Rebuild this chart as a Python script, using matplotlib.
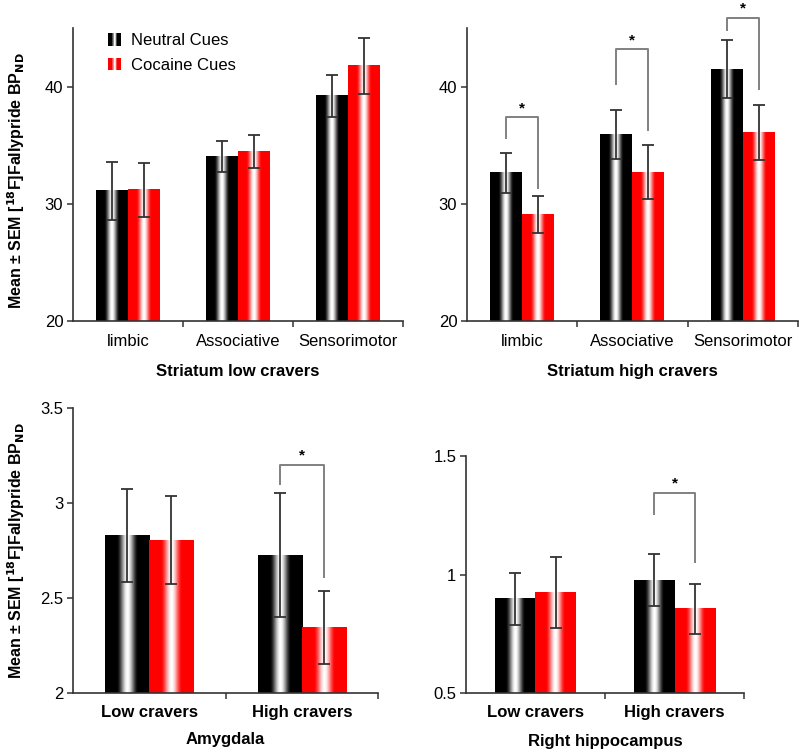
import matplotlib
matplotlib.use("Agg")
import matplotlib.pyplot as plt
import numpy as np
from matplotlib.legend_handler import HandlerBase
from matplotlib.patches import Rectangle, Patch
from matplotlib.ticker import FormatStrFormatter

plt.rcParams["font.family"] = ["Liberation Sans", "DejaVu Sans"]

# ---- data ----
striatum_regions = ["limbic", "Associative", "Sensorimotor"]
craver_groups = ["Low cravers", "High cravers"]

low_neutral = [31.1, 34.05, 39.2]
low_neutral_err = [2.45, 1.35, 1.8]
low_cocaine = [31.2, 34.5, 41.8]
low_cocaine_err = [2.3, 1.4, 2.4]

high_neutral = [32.65, 35.9, 41.5]
high_neutral_err = [1.7, 2.1, 2.45]
high_cocaine = [29.1, 32.7, 36.1]
high_cocaine_err = [1.6, 2.3, 2.35]

amyg_neutral = [2.83, 2.725]
amyg_neutral_err = [0.245, 0.325]
amyg_cocaine = [2.805, 2.345]
amyg_cocaine_err = [0.23, 0.19]

hippo_neutral = [0.897, 0.977]
hippo_neutral_err = [0.11, 0.11]
hippo_cocaine = [0.926, 0.855]
hippo_cocaine_err = [0.15, 0.105]

# significance brackets: (group index, bracket top, left leg end, right leg end)
high_brackets = [(0, 37.4, 35.6, 31.4), (1, 43.2, 40.2, 36.3), (2, 45.9, 44.8, 39.8)]
amyg_brackets = [(1, 3.2, 3.10, 2.61)]
hippo_brackets = [(1, 1.344, 1.255, 1.053)]

ylabel_text = r"Mean ± SEM [$^{\mathbf{18}}$F]Fallypride BP$_{\mathbf{ND}}$"

BLACK = np.array([0.0, 0.0, 0.0])
RED = np.array([1.0, 0.0, 0.0])
BAR_W = 0.29
AX_COLOR = "#333333"


def gradient_colors(base, n=200):
    t = np.linspace(0, 1, n)
    w = np.clip(1 - np.abs(t - 0.5) / 0.24, 0, 1)
    w = w * w * (3 - 2 * w)
    return base[None, :] * (1 - w[:, None]) + w[:, None]


def gradient_bar(ax, x0, x1, y0, y1, base):
    img = gradient_colors(base)[None, :, :]
    ax.imshow(img, extent=(x0, x1, y0, y1), aspect="auto", zorder=2,
              interpolation="bilinear")


class GradientHandler(HandlerBase):
    def __init__(self, base):
        super().__init__()
        self.base = base

    def create_artists(self, legend, orig_handle, xdescent, ydescent,
                       width, height, fontsize, trans):
        n = 24
        cols = gradient_colors(self.base, n)
        arts = []
        for i in range(n):
            r = Rectangle((-xdescent + i * width / n, -ydescent), width / n * 1.05, height,
                          facecolor=cols[i], edgecolor="none", transform=trans)
            arts.append(r)
        return arts


def panel(ax, labels, neutral, n_err, cocaine, c_err, ylim, yticks, fmt,
          brackets, xlabel, label_cats_bold):
    n = len(labels)
    xs = np.arange(n)
    for i in range(n):
        gradient_bar(ax, xs[i] - BAR_W, xs[i], ylim[0], neutral[i], BLACK)
        gradient_bar(ax, xs[i], xs[i] + BAR_W, ylim[0], cocaine[i], RED)
    ax.errorbar(xs - BAR_W / 2, neutral, yerr=n_err, fmt="none", ecolor=AX_COLOR,
                elinewidth=1.3, capsize=4.5, capthick=1.3, zorder=3)
    ax.errorbar(xs + BAR_W / 2, cocaine, yerr=c_err, fmt="none", ecolor=AX_COLOR,
                elinewidth=1.3, capsize=4.5, capthick=1.3, zorder=3)

    for gi, top, left_end, right_end in brackets:
        xl = xs[gi] - BAR_W / 2
        xr = xs[gi] + BAR_W / 2
        ax.plot([xl, xl, xr, xr], [left_end, top, top, right_end], color="#808080",
                lw=1.4, clip_on=False, zorder=3)
        ax.annotate("*", xy=(xs[gi], top), xytext=(0, 1.5), textcoords="offset points",
                    ha="center", va="bottom", fontsize=11, fontweight="bold",
                    annotation_clip=False)

    ax.set_xlim(-0.5, n - 0.5)
    ax.set_ylim(*ylim)
    ax.set_yticks(yticks)
    ax.yaxis.set_major_formatter(FormatStrFormatter(fmt))
    ax.set_xticks(np.arange(n) + 0.5)
    ax.set_xticklabels([])
    ax.set_xticks(xs, minor=True)
    ax.set_xticklabels(labels, minor=True,
                       fontweight="bold" if label_cats_bold else "normal")
    ax.tick_params(axis="x", which="minor", length=0, pad=9, labelsize=12)
    ax.tick_params(axis="x", which="major", length=4, width=1.1, color=AX_COLOR)
    ax.tick_params(axis="y", length=4, width=1.1, color=AX_COLOR, labelsize=12, pad=3)
    for s in ["top", "right"]:
        ax.spines[s].set_visible(False)
    for s in ["left", "bottom"]:
        ax.spines[s].set_color(AX_COLOR)
        ax.spines[s].set_linewidth(1.2)
    ax.set_xlabel(xlabel, fontsize=12, fontweight="bold")


fig = plt.figure(figsize=(7.99, 7.52), dpi=100)
ax1 = fig.add_axes([0.0914, 0.573, 0.413, 0.3896])
ax2 = fig.add_axes([0.5845, 0.573, 0.414, 0.3896])
ax3 = fig.add_axes([0.0914, 0.0785, 0.3817, 0.379])
ax4 = fig.add_axes([0.5832, 0.0785, 0.348, 0.315])

panel(ax1, striatum_regions, low_neutral, low_neutral_err, low_cocaine, low_cocaine_err,
      (20, 45), [20, 30, 40], "%g", [], "Striatum low cravers", False)
panel(ax2, striatum_regions, high_neutral, high_neutral_err, high_cocaine, high_cocaine_err,
      (20, 45), [20, 30, 40], "%g", high_brackets, "Striatum high cravers", False)
panel(ax3, craver_groups, amyg_neutral, amyg_neutral_err, amyg_cocaine, amyg_cocaine_err,
      (2, 3.5), [2, 2.5, 3, 3.5], "%g", amyg_brackets, "Amygdala", True)
panel(ax4, craver_groups, hippo_neutral, hippo_neutral_err, hippo_cocaine, hippo_cocaine_err,
      (0.5, 1.5), [0.5, 1, 1.5], "%g", hippo_brackets, "Right hippocampus", True)

ax1.xaxis.set_label_coords(0.5, -0.147)
ax2.xaxis.set_label_coords(0.5, -0.147)
ax3.xaxis.set_label_coords(0.5, -0.137)
ax4.xaxis.set_label_coords(0.5, -0.173)

ax1.set_ylabel(ylabel_text, fontsize=11.5, fontweight="bold")
ax3.set_ylabel(ylabel_text, fontsize=11.5, fontweight="bold")
ax1.yaxis.set_label_coords(-0.139, 0.48)
ax3.yaxis.set_label_coords(-0.151, 0.5)

h_neutral = Patch(label="Neutral Cues")
h_cocaine = Patch(label="Cocaine Cues")
ax1.legend(handles=[h_neutral, h_cocaine], loc="upper left", bbox_to_anchor=(0.106, 0.982),
           frameon=False, borderpad=0, borderaxespad=0, fontsize=12,
           handlelength=0.8, handleheight=0.75, handletextpad=0.55, labelspacing=0.55,
           handler_map={h_neutral: GradientHandler(BLACK), h_cocaine: GradientHandler(RED)})

fig.savefig("out.png", dpi=100)
